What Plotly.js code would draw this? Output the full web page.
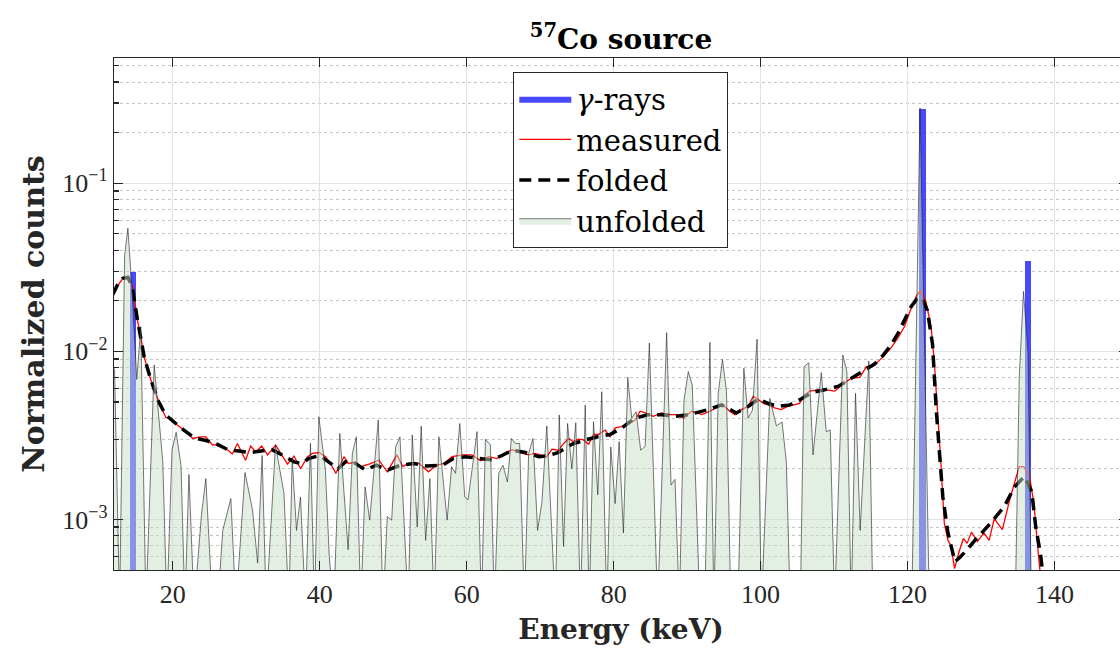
<!DOCTYPE html>
<html>
<head>
<meta charset="utf-8">
<script src="https://cdn.plot.ly/plotly-3.0.1.min.js"></script>
<style>
html,body{margin:0;padding:0;overflow:hidden;background:#fff;}
#chart{width:1130px;height:655px;}
</style>
</head>
<body>
<div id="chart"></div>
<script>
// ---- gamma-ray lines ----
const gammaE = [14.6, 122.0, 136.4];
const gammaVal = [0.0298, 0.277, 0.0346];

// ---- measured spectrum ----
const measE = [11.8,12.5,13.2,13.86,14.53,15.2,15.7,16.1,16.8,17.47,18.3,19.05,19.86,20.6,21.8,22.7,23.7,24.5,25.4,26.3,27.2,28.1,28.8,29.9,30.6,31.3,32.1,32.9,34.0,34.8,35.6,36.5,37.4,38.3,39.0,39.9,40.8,41.6,42.2,43.3,43.9,44.9,45.6,46.9,48.06,49.2,50.5,51.3,52.1,53.5,54.8,55.8,56.9,58.0,59.4,60.7,61.9,63.0,64.1,65.0,66.2,67.6,68.4,69.3,70.2,70.9,71.6,72.5,73.2,73.9,74.5,75.2,75.9,76.6,77.3,77.9,78.85,79.5,80.2,81.1,82.0,82.9,83.6,84.3,85.4,86.5,87.7,88.6,89.5,90.6,92.0,93.1,94.2,94.9,95.8,96.5,97.4,98.3,99.0,99.6,100.4,101.0,101.9,102.8,103.7,105.3,106.0,106.7,107.8,108.9,110.1,111.2,112.3,113.5,114.4,115.5,116.6,117.7,118.7,119.6,120.4,121.2,121.7,122.5,123.2,123.65,124.1,124.55,125.0,125.5,125.9,126.4,127.0,127.6,128.1,128.7,129.5,130.4,131.1,131.8,132.9,134.0,135.2,135.8,136.6,137.2,137.7,138.0,138.5];
const measVal = [0.0216,0.0245,0.0272,0.028,0.0243,0.0153,0.0118,0.0093,0.0072,0.0059,0.0048,0.00404,0.00399,0.00364,0.00333,0.00303,0.0031,0.0031,0.00277,0.0028,0.00265,0.00245,0.00283,0.00225,0.00273,0.00252,0.00273,0.00242,0.00277,0.00242,0.00213,0.00238,0.002,0.00235,0.00247,0.0025,0.00236,0.0021,0.00188,0.00236,0.00215,0.0022,0.00206,0.00215,0.00225,0.00192,0.00242,0.00206,0.00215,0.00215,0.00192,0.0021,0.00215,0.00236,0.00242,0.00242,0.00223,0.00236,0.0023,0.00245,0.0026,0.00247,0.00242,0.00247,0.00242,0.00236,0.00262,0.00258,0.00283,0.00303,0.0029,0.003,0.00297,0.0028,0.0032,0.0032,0.0034,0.0031,0.0035,0.00356,0.0037,0.0039,0.0044,0.0043,0.0041,0.0043,0.0042,0.0042,0.004,0.0044,0.0042,0.0044,0.0047,0.0048,0.0044,0.0042,0.0045,0.0047,0.0054,0.0052,0.0049,0.0048,0.0046,0.0045,0.0047,0.0049,0.0055,0.0058,0.0059,0.0059,0.0058,0.0064,0.0069,0.007,0.0081,0.0083,0.0092,0.0104,0.012,0.0141,0.0176,0.0213,0.0229,0.0197,0.014,0.0085,0.0045,0.0021,0.00095,0.00075,0.0007,0.00051,0.00064,0.00077,0.00072,0.00084,0.00074,0.00083,0.00075,0.00101,0.00087,0.00136,0.00206,0.00206,0.0018,0.00124,0.00069,0.0005,0.0003];

// ---- folded spectrum ----
const foldE = [11.8,12.5,13.2,13.9,14.5,15.2,16.1,17.0,18.0,19.0,20.0,21.5,23.0,24.5,26.0,27.5,29.0,30.5,32.0,33.5,35.0,36.5,37.5,38.5,40.0,41.5,42.5,43.5,44.5,46.2,47.7,49.3,51.0,52.8,54.5,56.7,58.2,59.8,61.5,63.4,64.8,66.2,68.0,69.8,71.2,72.5,74.3,76.1,77.8,79.5,81.1,82.9,84.7,86.5,88.4,90.2,92.9,94.7,96.7,98.3,99.7,101.0,102.4,104.0,105.5,107.0,108.7,110.6,112.8,115.5,116.7,117.8,118.7,119.6,120.5,121.3,121.9,122.7,123.4,123.9,124.3,124.8,125.5,126.45,127.2,128.1,129.5,131.3,133.2,134.5,135.9,136.9,137.45,138.1,138.6];
const foldVal = [0.0216,0.025,0.0272,0.0275,0.024,0.0153,0.0093,0.0068,0.0051,0.0042,0.00385,0.0034,0.00305,0.00295,0.0028,0.0026,0.00255,0.0025,0.00255,0.0026,0.0024,0.0022,0.00215,0.0023,0.0024,0.00215,0.002,0.0022,0.0022,0.00197,0.0021,0.00197,0.0021,0.00215,0.00208,0.0021,0.0023,0.00236,0.0023,0.00226,0.0024,0.00258,0.0025,0.00236,0.0024,0.0025,0.0028,0.00297,0.0031,0.0032,0.0035,0.004,0.0042,0.0042,0.0041,0.0042,0.0045,0.0048,0.0043,0.0047,0.0052,0.0049,0.0047,0.0048,0.0052,0.0057,0.0059,0.0062,0.0071,0.0084,0.0095,0.011,0.0128,0.0155,0.0185,0.0205,0.021,0.0175,0.011,0.0045,0.00258,0.00136,0.00083,0.00056,0.0006,0.00066,0.00078,0.00095,0.0012,0.00155,0.0018,0.00146,0.0009,0.00062,0.0004];

// ---- unfolded spectrum (0.0003 = empty bin, below the axis) ----
const unfE = [11.4,12.08,12.76,13.44,13.89,14.43,15.1,15.65,16.35,17.47,18.64,19.2,19.9,20.46,21.12,21.65,22.2,22.9,23.9,24.5,25.4,26.1,26.8,27.9,28.6,29.83,30.85,31.55,32.16,32.72,33.98,35.13,35.8,36.25,36.84,37.38,38.06,38.74,39.28,39.88,40.77,41.3,41.9,42.73,43.86,44.44,44.98,45.58,46.17,46.8,47.97,48.61,49.19,49.79,50.33,50.92,52.04,52.59,53.27,53.81,54.41,54.99,55.57,56.21,57.34,57.94,58.48,59.06,59.74,60.19,61.41,62.01,62.55,63.23,63.77,64.36,64.94,65.54,66.08,66.63,67.21,67.85,68.43,69.02,69.65,70.24,70.9,72.06,72.6,73.18,73.73,74.31,74.85,75.49,76.13,76.67,77.26,77.84,78.38,79.06,79.61,80.2,80.75,81.33,81.92,82.46,83.06,83.68,84.28,84.86,85.99,87.21,87.81,88.35,88.94,89.57,90.16,90.7,91.74,92.4,93.1,93.64,94.23,94.81,95.36,95.95,96.9,97.72,98.3,98.89,99.52,100.11,101.25,102.15,102.92,103.5,104.04,105.4,105.91,106.55,107.13,108.26,108.93,109.48,110.07,111.19,111.74,112.33,112.92,113.55,114.73,115.28,120.57,121.7,122.97,134.65,135.2,135.78,136.4,136.86,150];
const unfVal = [0.0095,0.0077,0.0003,0.037,0.054,0.024,0.0068,0.014,0.0003,0.0083,0.0022,0.0003,0.0026,0.0033,0.0021,0.0003,0.00185,0.0003,0.00106,0.00175,0.0003,0.0003,0.00086,0.00133,0.0003,0.0019,0.00114,0.00055,0.0024,0.0003,0.00277,0.00143,0.0003,0.00231,0.00086,0.00136,0.0003,0.00283,0.0003,0.00408,0.00197,0.0006,0.0003,0.00325,0.00066,0.00247,0.0031,0.0003,0.00156,0.00099,0.0039,0.0003,0.00104,0.00099,0.0027,0.0031,0.0003,0.00318,0.0009,0.00359,0.00075,0.00175,0.0003,0.0031,0.00099,0.00206,0.00188,0.00372,0.00136,0.00131,0.00333,0.0003,0.003,0.00277,0.0003,0.00188,0.0021,0.00167,0.00303,0.00283,0.00283,0.0003,0.00247,0.00303,0.00086,0.00127,0.0036,0.0003,0.00418,0.00069,0.00372,0.002,0.00376,0.0003,0.00479,0.0003,0.00381,0.0014,0.00575,0.0003,0.0027,0.00124,0.0029,0.00083,0.007,0.004,0.00437,0.00258,0.00272,0.0112,0.0003,0.0129,0.0016,0.00173,0.0003,0.00513,0.00757,0.0063,0.0003,0.0003,0.0113,0.0003,0.00562,0.00895,0.00575,0.0003,0.0003,0.00792,0.004,0.00447,0.0118,0.0003,0.00525,0.0036,0.0038,0.0022,0.0003,0.0003,0.0081,0.00855,0.00242,0.00746,0.00333,0.0034,0.0003,0.0095,0.00757,0.0003,0.00562,0.00086,0.00875,0.0003,0.0003,0.28,0.0003,0.0003,0.007,0.0227,0.0097,0.0003,0.0003];

// ---- axis ticks ----
const xTicks = [20, 40, 60, 80, 100, 120, 140];
const yTicks = [0.001, 0.01, 0.1];
const yTickText = ['10<sup>−3</sup>', '10<sup>−2</sup>', '10<sup>−1</sup>'];
const yMinor = [];
[0.0001, 0.001, 0.01, 0.1].forEach(d => { for (let k = 2; k <= 9; k++) yMinor.push(d * k); });

const axisColor = '#262626';
const gammaColor = 'rgb(72,72,255)';
const tickFont = {family: 'Liberation Serif, serif', size: 26, color: axisColor};

const traces = [
  {type: 'bar', name: '<i>γ</i>-rays', legendgroup: 'g', showlegend: false,
   x: gammaE, y: gammaVal, width: 0.9,
   marker: {color: gammaColor, line: {width: 0}}},
  // legend swatch for the gamma-ray bars (no visible data of its own)
  {type: 'scatter', mode: 'lines', name: '<i>γ</i>-rays', legendgroup: 'g',
   x: [null], y: [null], fill: 'toself', fillcolor: gammaColor,
   line: {width: 0, color: gammaColor}},
  {type: 'scatter', mode: 'lines', name: 'measured', x: measE, y: measVal,
   line: {color: '#ff0000', width: 1.3}},
  {type: 'scatter', mode: 'lines', name: 'folded', x: foldE, y: foldVal,
   line: {color: '#000000', width: 3.5, dash: '12px,7px'}},
  {type: 'scatter', mode: 'lines', name: 'unfolded', x: unfE, y: unfVal,
   fill: 'tozeroy', fillcolor: 'rgba(199,223,199,0.5)',
   line: {color: 'rgba(30,30,30,0.75)', width: 0.8}}
];

const layout = {
  width: 1130, height: 655,
  margin: {l: 114, r: 2, t: 58, b: 85},
  paper_bgcolor: '#ffffff', plot_bgcolor: '#ffffff',
  showlegend: true,
  title: {text: '<b><sup>57</sup>Co source</b>', x: 0.5, xref: 'paper', xanchor: 'center',
          y: 0.94, yref: 'container', yanchor: 'middle',
          font: {family: 'DejaVu Serif, serif', size: 28, color: '#000000'}},
  xaxis: {
    range: [12, 150], tickvals: xTicks, ticktext: xTicks.map(String),
    ticks: 'inside', ticklen: 9, tickwidth: 1.3, tickcolor: axisColor,
    showline: true, linecolor: axisColor, linewidth: 1.3, mirror: 'ticks',
    showgrid: true, gridcolor: '#e2e2e2', gridwidth: 1, zeroline: false,
    tickfont: tickFont,
    title: {text: '<b>Energy (keV)</b>', standoff: 12,
            font: {family: 'DejaVu Serif, serif', size: 28, color: axisColor}}
  },
  yaxis: {
    type: 'log', range: [Math.log10(5e-4), Math.log10(0.556)],
    tickvals: yTicks, ticktext: yTickText,
    ticks: 'inside', ticklen: 9, tickwidth: 1.3, tickcolor: axisColor,
    showline: true, linecolor: axisColor, linewidth: 1.3, mirror: 'ticks',
    showgrid: true, gridcolor: '#e2e2e2', gridwidth: 1, zeroline: false,
    minor: {tickvals: yMinor, ticks: 'inside', ticklen: 5, tickwidth: 1.2, tickcolor: axisColor,
            showgrid: true, gridcolor: '#c4c4c4', gridwidth: 1, griddash: 'dot'},
    tickfont: tickFont,
    title: {text: '<b>Normalized counts</b>', standoff: 8,
            font: {family: 'DejaVu Serif, serif', size: 30, color: axisColor}}
  },
  legend: {x: 0.3935, y: 0.9727, xanchor: 'left', yanchor: 'top',
           bgcolor: '#ffffff', bordercolor: axisColor, borderwidth: 1.3,
           font: {family: 'DejaVu Serif, serif', size: 29, color: '#000000'},
           itemwidth: 52, tracegroupgap: 0},
  bargap: 0
};

Plotly.newPlot('chart', traces, layout, {displayModeBar: false, staticPlot: true});
</script>
</body>
</html>
